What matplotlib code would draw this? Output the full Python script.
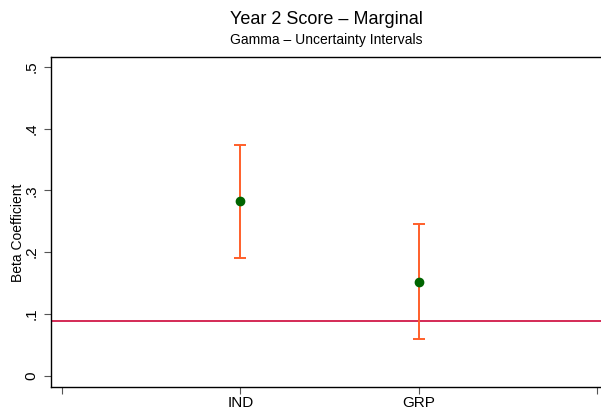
import matplotlib
matplotlib.use("Agg")
import matplotlib.pyplot as plt

plt.rcParams['font.family'] = ['Liberation Sans', 'DejaVu Sans']

# estimates and interval bounds per group
groups = ['IND', 'GRP']
beta = [0.283, 0.152]
lower = [0.191, 0.059]
upper = [0.374, 0.246]
ref_value = 0.089

xtick_pos = [0, 1, 2, 3]
xtick_labels = ['', 'IND', 'GRP', '']
ytick_pos = [0, 0.1, 0.2, 0.3, 0.4, 0.5]
ytick_labels = ['0', '.1', '.2', '.3', '.4', '.5']

fig = plt.figure(figsize=(6.01, 4.09), dpi=100)
ax = fig.add_axes([51.3 / 601, 1 - 387.3 / 409, (601 - 51.3) / 601, (387.3 - 56.7) / 409])

x = [1, 2]
err = [[b - l for b, l in zip(beta, lower)], [u - b for u, b in zip(upper, beta)]]
ax.errorbar(x, beta, yerr=err, fmt='none', ecolor='#FF5F2A', elinewidth=1.4,
            capsize=4, capthick=1.4, zorder=2)
ax.plot(x, beta, 'o', color='#006400', markersize=6, zorder=3)
ax.axhline(ref_value, color='#D42A55', linewidth=1.4, zorder=1)

ax.set_xlim(-0.06, 3.022)
ax.set_ylim(-0.0191, 0.5167)
ax.set_xticks(xtick_pos)
ax.set_xticklabels(xtick_labels, fontsize=11)
ax.set_yticks(ytick_pos)
ax.set_yticklabels(ytick_labels, fontsize=11, rotation=90, va='center')
ax.tick_params(axis='both', direction='out', length=5, width=0.8, color='#555555')
ax.tick_params(axis='x', pad=1.5)
ax.tick_params(axis='y', pad=4)
ax.spines['right'].set_visible(False)
for s in ['left', 'top', 'bottom']:
    ax.spines[s].set_linewidth(1.0)

ax.set_ylabel('Beta Coefficient', fontsize=10)
ax.yaxis.set_label_coords(-0.048, 0.467)

fig.text(326 / 601, 1 - 19 / 409, 'Year 2 Score \u2013 Marginal', ha='center', va='center', fontsize=13)
fig.text(326 / 601, 1 - 40 / 409, 'Gamma \u2013 Uncertainty Intervals', ha='center', va='center', fontsize=10)

fig.savefig('out.png', dpi=100)
